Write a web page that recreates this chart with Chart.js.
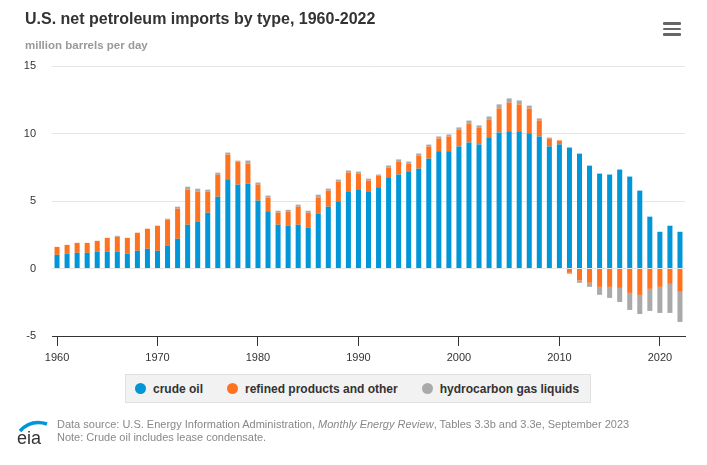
<!DOCTYPE html>
<html>
<head>
<meta charset="utf-8">
<script src="https://cdn.jsdelivr.net/npm/chart.js@4.4.0/dist/chart.umd.min.js"></script>
<style>
    body { margin: 0; background: #fff; font-family: "Liberation Sans", Arial, sans-serif; }
    #wrap { position: relative; width: 707px; height: 465px; overflow: hidden; }
    #chart { position: absolute; left: 0; top: 0; }
    .title { position: absolute; left: 25px; top: 10px; font-size: 16px; font-weight: bold; color: #333; }
    .subtitle { position: absolute; left: 25px; top: 39px; font-size: 11.5px; font-weight: bold; color: #999; }
    .menu { position: absolute; left: 663px; top: 22px; width: 18px; }
    .menu div { height: 2.5px; background: #666; margin-bottom: 3px; border-radius: 1px; }
    .legend { position: absolute; left: 125px; top: 374px; width: 455px; height: 27px; background: #f2f2f2;
        border: 1px solid #e0e0e0; display: flex; align-items: center; padding-left: 9px; box-sizing: content-box; }
    .legend .item { display: flex; align-items: center; flex-shrink: 0; white-space: nowrap; margin-right: 24px;
        font-size: 12px; font-weight: bold; color: #333; }
    .legend .dot { width: 11px; height: 11px; border-radius: 50%; margin-right: 7px; flex-shrink: 0; }
    .footer { position: absolute; left: 57px; top: 418px; font-size: 11px; color: #888; line-height: 13px; }
    .logo { position: absolute; left: 16px; top: 416px; }
</style>
</head>
<body>
<div id="wrap">
    <canvas id="chart" width="707" height="465"></canvas>
    <div class="title">U.S. net petroleum imports by type, 1960-2022</div>
    <div class="subtitle">million barrels per day</div>
    <div class="menu"><div></div><div></div><div></div></div>
    <div class="legend" id="legend"></div>
    <svg class="logo" width="34" height="30" viewBox="0 0 34 30">
        <path d="M4 15 Q15 3 31 8" stroke="#0096d7" stroke-width="3.5" fill="none"/>
        <text x="1" y="28" font-family="Liberation Sans, Arial" font-size="18" fill="#333">eia</text>
    </svg>
    <div class="footer">
        Data source: U.S. Energy Information Administration, <i>Monthly Energy Review</i>, Tables 3.3b and 3.3e, September 2023<br>
        Note: Crude oil includes lease condensate.
    </div>
</div>
<script>
// الفئات: السنوات
const years = [
    1960, 1961, 1962, 1963, 1964, 1965, 1966, 1967, 1968, 1969,
    1970, 1971, 1972, 1973, 1974, 1975, 1976, 1977, 1978, 1979,
    1980, 1981, 1982, 1983, 1984, 1985, 1986, 1987, 1988, 1989,
    1990, 1991, 1992, 1993, 1994, 1995, 1996, 1997, 1998, 1999,
    2000, 2001, 2002, 2003, 2004, 2005, 2006, 2007, 2008, 2009,
    2010, 2011, 2012, 2013, 2014, 2015, 2016, 2017, 2018, 2019,
    2020, 2021, 2022
];

const crudeOil = [
    1.01, 1.11, 1.16, 1.16, 1.26, 1.26, 1.26, 1.11, 1.31, 1.46,
    1.31, 1.71, 2.20, 3.24, 3.49, 4.13, 5.32, 6.61, 6.21, 6.29,
    5.03, 4.24, 3.24, 3.19, 3.24, 3.04, 4.08, 4.58, 4.98, 5.72,
    5.87, 5.72, 6.02, 6.76, 6.96, 7.20, 7.40, 8.14, 8.69, 8.69,
    9.04, 9.33, 9.19, 9.73, 10.08, 10.17, 10.17, 10.02, 9.78, 9.04,
    9.19, 8.96, 8.51, 7.62, 7.03, 6.96, 7.33, 6.81, 5.77, 3.84,
    2.72, 3.17, 2.72
];

const refinedProducts = [
    0.59, 0.64, 0.74, 0.74, 0.79, 1.01, 1.09, 1.16, 1.34, 1.49,
    1.86, 1.91, 2.23, 2.60, 2.20, 1.56, 1.63, 1.83, 1.71, 1.49,
    1.19, 1.01, 0.89, 1.01, 1.34, 1.09, 1.19, 1.19, 1.46, 1.39,
    1.16, 0.79, 0.87, 0.72, 0.97, 0.57, 0.97, 0.89, 0.94, 1.09,
    1.26, 1.41, 1.26, 1.31, 1.78, 2.13, 1.98, 1.83, 1.19, 0.59,
    0.30, -0.32, -0.89, -1.06, -1.36, -1.36, -1.44, -1.81, -1.96, -1.51,
    -1.36, -1.14, -1.73
];

const gasLiquids = [
    0, 0, 0, 0, 0, 0, 0.07, 0, 0, 0,
    0, 0.07, 0.15, 0.22, 0.22, 0.15, 0.15, 0.15, 0.07, 0.22,
    0.15, 0.15, 0.15, 0.15, 0.15, 0.15, 0.20, 0.15, 0.15, 0.15,
    0.15, 0.15, 0.07, 0.15, 0.15, 0.15, 0.15, 0.15, 0.15, 0.15,
    0.15, 0.22, 0.15, 0.22, 0.30, 0.30, 0.30, 0.22, 0.15, 0.07,
    0, -0.07, -0.17, -0.30, -0.59, -0.82, -1.04, -1.26, -1.41, -1.63,
    -1.93, -2.15, -2.23
];

const yTicks = [-5, 0, 5, 10, 15];

const seriesNames = ['crude oil', 'refined products and other', 'hydrocarbon gas liquids'];
const seriesColors = ['#0096d7', '#ff7320', '#aaaaaa'];

document.addEventListener('DOMContentLoaded', () => {
    buildChart();
    buildLegend();
});

function buildChart() {
    const ctx = document.getElementById('chart').getContext('2d');
    const values = [crudeOil, refinedProducts, gasLiquids];
    new Chart(ctx, {
        type: 'bar',
        data: {
            labels: years,
            datasets: values.map((v, i) => ({
                label: seriesNames[i],
                data: v,
                backgroundColor: seriesColors[i],
                borderWidth: 0,
                categoryPercentage: 1,
                barPercentage: 0.5,
                stack: 'imports'
            }))
        },
        options: {
            responsive: false,
            animation: false,
            layout: { padding: { top: 66, right: 22, bottom: 99, left: 0 } },
            plugins: { legend: { display: false }, tooltip: { enabled: false } },
            scales: {
                x: {
                    stacked: true,
                    afterFit: scale => { scale.height = 30; },
                    border: { display: true, color: '#333', width: 1 },
                    grid: {
                        offset: false,
                        drawOnChartArea: false,
                        drawTicks: true,
                        tickLength: 10,
                        color: c => (years[c.index] % 10 === 0 ? '#333' : 'rgba(0,0,0,0)')
                    },
                    ticks: {
                        autoSkip: false,
                        maxRotation: 0,
                        padding: 5,
                        color: '#333',
                        font: { size: 11, family: '"Liberation Sans", Arial, sans-serif' },
                        callback: (val, i) => (years[i] % 10 === 0 ? String(years[i]) : '')
                    }
                },
                y: {
                    stacked: true,
                    min: yTicks[0],
                    max: yTicks[yTicks.length - 1],
                    afterFit: scale => { scale.width = 52; },
                    afterBuildTicks: scale => { scale.ticks = yTicks.map(v => ({ value: v })); },
                    border: { display: false },
                    grid: { color: '#e6e6e6', drawTicks: false },
                    ticks: {
                        padding: 16,
                        color: '#333',
                        font: { size: 11, family: '"Liberation Sans", Arial, sans-serif' }
                    }
                }
            }
        }
    });
}

function buildLegend() {
    const legend = document.getElementById('legend');
    seriesNames.forEach((name, i) => {
        const item = document.createElement('div');
        item.className = 'item';
        item.innerHTML = '<span class="dot" style="background:' + seriesColors[i] + '"></span>' + name;
        legend.appendChild(item);
    });
}
</script>
</body>
</html>
